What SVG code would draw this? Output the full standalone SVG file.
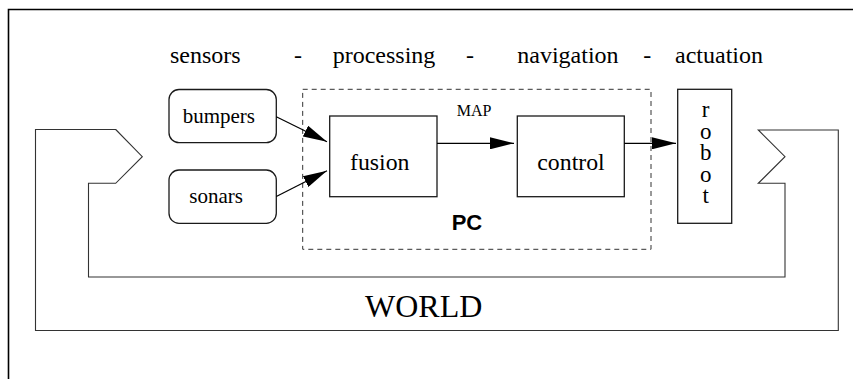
<svg xmlns="http://www.w3.org/2000/svg" width="853" height="379" viewBox="0 0 853 379">
<style>
text{font-family:"Liberation Serif","Times New Roman",serif;fill:#000}
.box{fill:#fff;stroke:#1a1a1a;stroke-width:1.3}
.conn{stroke:#000;stroke-width:1.2;fill:none}
</style>
<defs>
<marker id="ah" markerUnits="userSpaceOnUse" markerWidth="24" markerHeight="12" refX="24" refY="6" orient="auto" viewBox="0 0 24 12">
<path d="M0,0 L24,6 L0,12 z" fill="#000"/>
</marker>
</defs>
<rect width="853" height="379" fill="#fff"/>
<path id="frame" d="M8.5,379 V9.5 H853" fill="none" stroke="#000" stroke-width="1.6"/>
<g id="world">
<path d="M115.7,129.5 L142.3,156.7 L115.7,183.3 H88.5 V277 H785 V183.3 H758.3 L785,156.7 L758.3,130 H838.3 V330.5 H35.5 V129.5 Z" fill="none" stroke="#333" stroke-width="1.1"/>
<text x="365" y="317" font-size="32">WORLD</text>
</g>
<g id="header" font-size="24">
<text x="170" y="63">sensors</text>
<text x="294" y="63">-</text>
<text x="332.7" y="63">processing</text>
<text x="466" y="63">-</text>
<text x="517.3" y="63">navigation</text>
<text x="643.3" y="63">-</text>
<text x="675" y="63">actuation</text>
</g>
<g id="pc">
<rect x="302.7" y="89.3" width="348.3" height="160" fill="none" stroke="#333" stroke-width="1" stroke-dasharray="5,4"/>
<text x="451.7" y="230" style="font-family:'Liberation Sans',Arial,sans-serif;font-weight:bold" font-size="22">PC</text>
</g>
<g id="bumpers">
<rect class="box" x="169" y="89.5" width="107.3" height="53.2" rx="10"/>
<text x="182.7" y="123.3" font-size="21">bumpers</text>
</g>
<g id="sonars">
<rect class="box" x="169" y="170" width="107.3" height="53.3" rx="10"/>
<text x="189.3" y="203.3" font-size="21">sonars</text>
</g>
<g id="fusion">
<rect class="box" x="329.7" y="116" width="107.3" height="80.7"/>
<text x="350" y="170" font-size="23.8">fusion</text>
</g>
<g id="control">
<rect class="box" x="517.3" y="116" width="107" height="80.7"/>
<text x="537.3" y="170" font-size="23.8">control</text>
</g>
<g id="robot">
<rect class="box" x="677.7" y="89.3" width="54" height="134"/>
<text x="705.7" y="151" font-size="23" text-anchor="middle" style="writing-mode:vertical-rl;text-orientation:upright" letter-spacing="-3.5">robot</text>
</g>
<text id="map" x="456.7" y="116" font-size="16">MAP</text>
<g id="connectors">
<line class="conn" x1="276.3" y1="116.7" x2="327" y2="141.7" marker-end="url(#ah)"/>
<line class="conn" x1="276.3" y1="196.5" x2="327" y2="170.7" marker-end="url(#ah)"/>
<line class="conn" x1="437" y1="143.3" x2="514" y2="143.3" marker-end="url(#ah)"/>
<line class="conn" x1="624.3" y1="143.3" x2="676" y2="143.3" marker-end="url(#ah)"/>
</g>
</svg>
